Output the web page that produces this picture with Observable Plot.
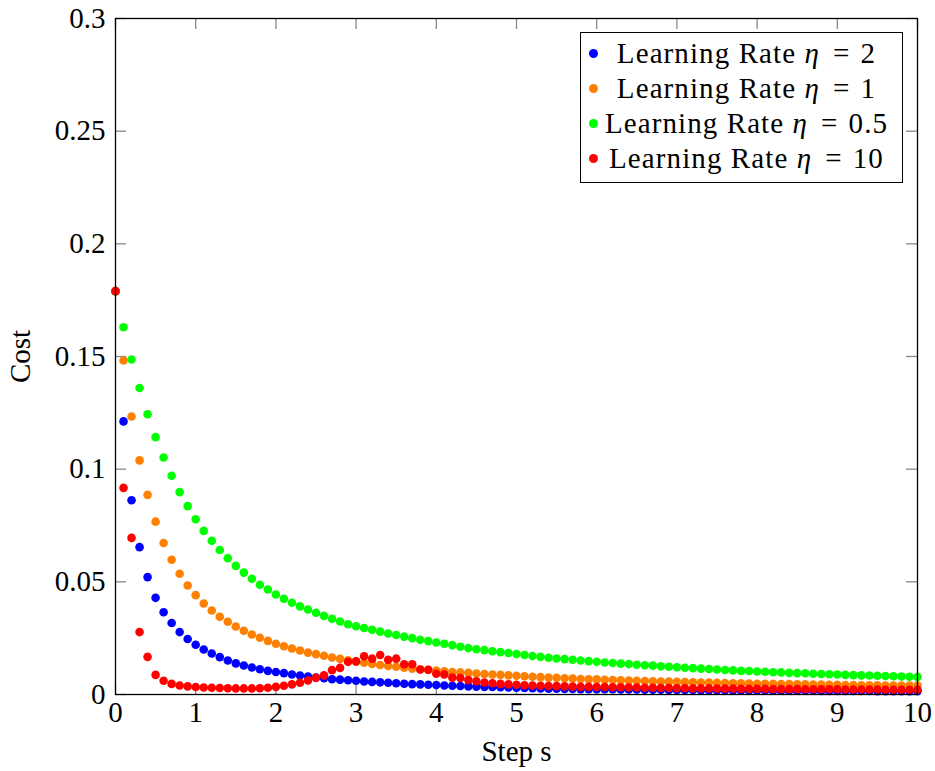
<!DOCTYPE html>
<html><head><meta charset="utf-8">
<script src="https://cdn.jsdelivr.net/npm/d3@7"></script>
<script src="https://cdn.jsdelivr.net/npm/@observablehq/plot@0.6"></script>
<style>
body{margin:0;background:#fff;}
#wrap{position:relative;width:935px;height:771px;}
#legend{position:absolute;left:580px;top:32px;width:323px;height:151px;border:1.3px solid #000;box-sizing:border-box;background:#fff;font-family:"Liberation Serif","DejaVu Serif",serif;font-size:29px;color:#000;padding-top:3px;}
.row{position:relative;height:35px;}
.dot{position:absolute;left:8px;top:13px;width:9px;height:9px;border-radius:50%;}
.txt{position:absolute;left:20px;width:291px;top:0;line-height:35px;text-align:center;white-space:nowrap;letter-spacing:1.1px;}
.eq{margin:0 10px 0 13px;}
</style>
</head><body>
<div id="wrap"><div id="chart"></div><div id="legend"></div></div>
<script>
const seriesNames = ["Learning Rate η = 2", "Learning Rate η = 1", "Learning Rate η = 0.5", "Learning Rate η = 10"];
const seriesColors = ["#0000ff", "#ff8000", "#00ff00", "#ff0000"];
const xTicks = [0,1,2,3,4,5,6,7,8,9,10];
const yTicks = [0,0.05,0.1,0.15,0.2,0.25,0.3];
const stepSize = 0.1;

const costEta2 = [0.179,
 0.1212,0.0862,0.0654,0.0521,0.0429,0.0365,0.0317,0.0277,0.0246,0.0221,
 0.0200,0.0182,0.0166,0.0151,0.0138,0.0129,0.0120,0.0112,0.0105,0.0100,
 0.0095,0.0089,0.0084,0.0080,0.0075,0.0072,0.0068,0.0066,0.0063,0.0061,
 0.0058,0.0056,0.0054,0.0052,0.0050,0.0048,0.0046,0.0045,0.0043,0.0042,
 0.0040,0.0039,0.0038,0.0036,0.0035,0.0034,0.0033,0.0032,0.0031,0.0030,
 0.0029,0.0028,0.0027,0.0026,0.0026,0.0025,0.0025,0.0024,0.0024,0.0023,
 0.0023,0.0023,0.0022,0.0022,0.0022,0.0021,0.0021,0.0021,0.0020,0.0020,
 0.0020,0.0020,0.0019,0.0019,0.0019,0.0019,0.0018,0.0018,0.0018,0.0018,
 0.0018,0.0017,0.0017,0.0017,0.0017,0.0017,0.0017,0.0016,0.0016,0.0016,
 0.0016,0.0016,0.0016,0.0016,0.0015,0.0015,0.0015,0.0015,0.0015,0.0015];

const costEta1 = [0.179,
 0.1482,0.1234,0.1039,0.0886,0.0767,0.0672,0.0598,0.0536,0.0484,0.0441,
 0.0404,0.0373,0.0345,0.0323,0.0302,0.0283,0.0266,0.0252,0.0238,0.0225,
 0.0214,0.0204,0.0195,0.0186,0.0179,0.0172,0.0164,0.0158,0.0152,0.0146,
 0.0141,0.0136,0.0131,0.0127,0.0123,0.0119,0.0115,0.0112,0.0109,0.0106,
 0.0103,0.0100,0.0098,0.0096,0.0093,0.0091,0.0089,0.0087,0.0085,0.0083,
 0.0081,0.0079,0.0077,0.0075,0.0074,0.0072,0.0071,0.0069,0.0068,0.0067,
 0.0065,0.0064,0.0063,0.0062,0.0061,0.0060,0.0059,0.0058,0.0057,0.0056,
 0.0055,0.0054,0.0053,0.0053,0.0052,0.0051,0.0050,0.0050,0.0049,0.0048,
 0.0048,0.0047,0.0046,0.0046,0.0045,0.0045,0.0044,0.0044,0.0043,0.0043,
 0.0042,0.0042,0.0041,0.0041,0.0041,0.0040,0.0040,0.0040,0.0040,0.0040];

const costEta05 = [0.179,
 0.1630,0.1487,0.1360,0.1244,0.1142,0.1052,0.0971,0.0898,0.0836,0.0778,
 0.0726,0.0682,0.0641,0.0605,0.0571,0.0541,0.0514,0.0487,0.0466,0.0444,
 0.0425,0.0407,0.0391,0.0377,0.0363,0.0349,0.0336,0.0324,0.0312,0.0303,
 0.0295,0.0287,0.0279,0.0271,0.0264,0.0257,0.0250,0.0243,0.0237,0.0231,
 0.0225,0.0219,0.0212,0.0206,0.0201,0.0197,0.0192,0.0188,0.0184,0.0180,
 0.0175,0.0171,0.0167,0.0163,0.0160,0.0157,0.0154,0.0151,0.0148,0.0145,
 0.0142,0.0140,0.0137,0.0135,0.0132,0.0130,0.0128,0.0125,0.0123,0.0121,
 0.0119,0.0117,0.0115,0.0113,0.0111,0.0109,0.0107,0.0105,0.0104,0.0102,
 0.0101,0.0099,0.0098,0.0096,0.0095,0.0094,0.0092,0.0091,0.0090,0.0089,
 0.0087,0.0086,0.0085,0.0084,0.0083,0.0082,0.0081,0.0080,0.0079,0.0078];

const costEta10 = [0.179,
 0.0917,0.0695,0.0277,0.0167,0.0087,0.0061,0.0047,0.0040,0.0036,0.0033,
 0.0031,0.0030,0.0029,0.0028,0.0027,0.0027,0.0027,0.0028,0.0030,0.0034,
 0.0039,0.0045,0.0052,0.0062,0.0074,0.0085,0.0108,0.0118,0.0145,0.0147,
 0.0170,0.0159,0.0175,0.0154,0.0159,0.0134,0.0134,0.0111,0.0110,0.0092,
 0.0089,0.0075,0.0073,0.0064,0.0059,0.0053,0.0050,0.0047,0.0045,0.0043,
 0.0041,0.0040,0.0039,0.0038,0.0037,0.0036,0.0035,0.0034,0.0034,0.0033,
 0.0033,0.0032,0.0032,0.0031,0.0031,0.0030,0.0030,0.0029,0.0029,0.0028,
 0.0028,0.0027,0.0027,0.0027,0.0026,0.0026,0.0026,0.0025,0.0025,0.0025,
 0.0025,0.0024,0.0024,0.0024,0.0024,0.0023,0.0023,0.0023,0.0023,0.0023,
 0.0022,0.0022,0.0022,0.0022,0.0022,0.0021,0.0021,0.0021,0.0021,0.0021];

const allSeries = [costEta2, costEta1, costEta05, costEta10];
const toPoints = arr => arr.map((c, i) => ({s: +(i * stepSize).toFixed(1), c}));

const W = 935, H = 771;
const mL = 115, mR = 18, mT = 18, mB = 77;
const plotW = W - mL - mR, plotH = H - mT - mB;
const tickLen = 11;

const chart = Plot.plot({
  width: W, height: H,
  marginLeft: mL, marginRight: mR, marginTop: mT, marginBottom: mB,
  style: {fontFamily: "'Liberation Serif', 'DejaVu Serif', serif", fontSize: "29px", color: "#000", background: "#fff"},
  x: {domain: [0, 10]},
  y: {domain: [0, 0.3]},
  marks: [
    Plot.tickX(xTicks, {x: d => d, insetTop: plotH - tickLen, stroke: "#888", strokeWidth: 1.3}),
    Plot.tickX(xTicks, {x: d => d, insetBottom: plotH - tickLen, stroke: "#888", strokeWidth: 1.3}),
    Plot.tickY(yTicks, {y: d => d, insetRight: plotW - tickLen, stroke: "#888", strokeWidth: 1.3}),
    Plot.tickY(yTicks, {y: d => d, insetLeft: plotW - tickLen, stroke: "#888", strokeWidth: 1.3}),
    ...allSeries.map((arr, k) => Plot.dot(toPoints(arr), {x: "s", y: "c", r: 4.3, fill: seriesColors[k], stroke: "none"})),
    Plot.frame({stroke: "#000", strokeWidth: 1.3}),
    Plot.axisX({ticks: xTicks, tickSize: 0, tickPadding: 7, tickFormat: d => String(d),
      label: "Step s", labelAnchor: "center", labelArrow: "none", labelOffset: 66}),
    Plot.axisY({ticks: yTicks, tickSize: 0, tickPadding: 10, tickFormat: d => String(d),
      label: "Cost", labelAnchor: "center", labelArrow: "none", labelOffset: 106})
  ]
});
document.getElementById("chart").appendChild(chart);

const leg = document.getElementById("legend");
seriesNames.forEach((name, k) => {
  const row = document.createElement("div");
  row.className = "row";
  const dot = document.createElement("div");
  dot.className = "dot";
  dot.style.background = seriesColors[k];
  const txt = document.createElement("div");
  txt.className = "txt";
  const [head, tail] = name.split("η");
  const value = tail.replace("=", "").trim();
  txt.innerHTML = head + "<i>η</i><span class=\"eq\">=</span>" + value;
  row.appendChild(dot); row.appendChild(txt);
  leg.appendChild(row);
});
</script>
</body></html>
